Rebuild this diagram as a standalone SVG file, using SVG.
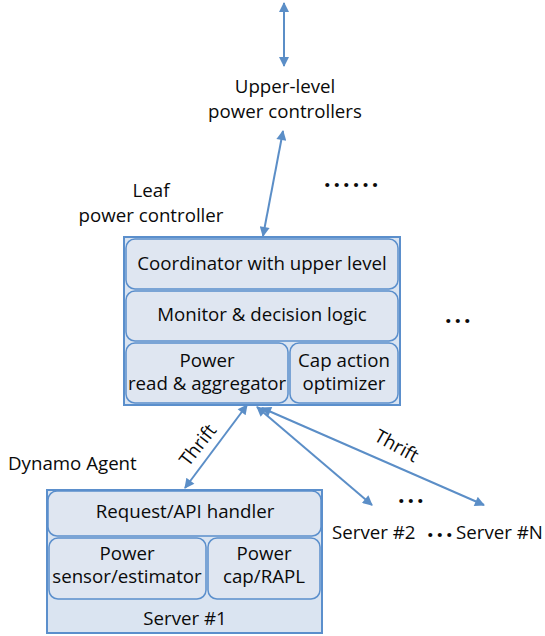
<svg xmlns="http://www.w3.org/2000/svg" width="545" height="636" viewBox="0 0 545 636">
<defs>
<marker id="ah" viewBox="0 0 10 10" refX="9" refY="5" markerWidth="12" markerHeight="10" markerUnits="userSpaceOnUse" orient="auto-start-reverse">
<path d="M0,0 L10,5 L0,10 Z" fill="#5b8ec7"/>
</marker>
</defs>
<style>
text{font-family:"Open Sans","Liberation Sans",Arial,sans-serif;font-size:18.7px;fill:#0a0a0a;}
.c{text-anchor:middle;}
.outer{fill:#dae4f1;stroke:#5b8fcc;stroke-width:2;}
.inner{fill:#dfe6f1;stroke:#5b8fcc;stroke-width:1.5;}
.arr{stroke:#5b8ec7;stroke-width:2;fill:none;marker-start:url(#ah);marker-end:url(#ah);}
.dot{font-weight:bold;font-size:23px;letter-spacing:3px;}
</style>
<rect width="545" height="636" fill="#fff"/>
<g id="connectors">
<line class="arr" x1="284" y1="3" x2="284" y2="66"/>
<line class="arr" x1="283" y1="131" x2="263" y2="236"/>
<line class="arr" x1="247" y1="405" x2="185" y2="488"/>
<line class="arr" x1="257" y1="407" x2="372" y2="505"/>
<line class="arr" x1="262" y1="408" x2="484" y2="505"/>
</g>
<g id="upper">
<text class="c" x="285" y="93">Upper-level</text>
<text class="c" x="285" y="118">power controllers</text>
</g>
<g id="leaf-label">
<text class="c" x="151" y="197">Leaf</text>
<text class="c" x="151" y="222">power controller</text>
</g>
<g id="dots-top"><text class="dot" x="324" y="187">......</text></g>
<g id="leaf">
<rect class="outer" x="124" y="237" width="276" height="168"/>
<rect class="inner" x="126" y="239" width="272" height="50" rx="9"/>
<text class="c" x="262" y="270">Coordinator with upper level</text>
<rect class="inner" x="126" y="291" width="272" height="50" rx="9"/>
<text class="c" x="262" y="321">Monitor &amp; decision logic</text>
<rect class="inner" x="126" y="343" width="162" height="60" rx="9"/>
<text class="c" x="207" y="367">Power</text>
<text class="c" x="207" y="390">read &amp; aggregator</text>
<rect class="inner" x="290" y="343" width="108" height="60" rx="9"/>
<text class="c" x="344" y="367">Cap action</text>
<text class="c" x="344" y="390">optimizer</text>
</g>
<g id="dots-right"><text class="dot" x="445" y="323">...</text></g>
<g id="thrift1"><text class="c" x="199" y="451" transform="rotate(-52 199 446)">Thrift</text></g>
<g id="thrift2"><text class="c" x="396" y="452" transform="rotate(29 396 447)">Thrift</text></g>
<g id="agent-label"><text x="8" y="470">Dynamo Agent</text></g>
<g id="agent">
<rect class="outer" x="47" y="490" width="275" height="143"/>
<rect class="inner" x="48" y="491" width="273" height="45" rx="9"/>
<text class="c" x="185" y="518">Request/API handler</text>
<rect class="inner" x="49" y="538" width="157" height="61" rx="9"/>
<text class="c" x="127" y="560">Power</text>
<text class="c" x="127" y="583">sensor/estimator</text>
<rect class="inner" x="208" y="538" width="112" height="61" rx="9"/>
<text class="c" x="264" y="560">Power</text>
<text class="c" x="264" y="583">cap/RAPL</text>
<text class="c" x="185" y="625">Server #1</text>
</g>
<g id="dots-servers"><text class="dot" x="398" y="503">...</text></g>
<g id="server2"><text x="332" y="539">Server #2</text></g>
<g id="dots-n"><text class="dot" x="427" y="537">...</text></g>
<g id="serverN"><text x="456" y="539">Server #N</text></g>
</svg>
